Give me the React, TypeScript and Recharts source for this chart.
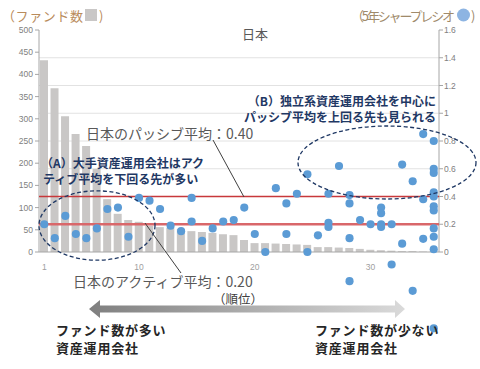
import React from 'react';
import {
  ComposedChart,
  Bar,
  Scatter,
  XAxis,
  YAxis,
  ZAxis,
  CartesianGrid,
  ReferenceLine,
} from 'recharts';

// ---- data ----
const ranks = [
  1, 2, 3, 4, 5, 6, 7, 8, 9, 10, 11, 12, 13, 14, 15, 16, 17, 18, 19, 20,
  21, 22, 23, 24, 25, 26, 27, 28, 29, 30, 31, 32, 33, 34, 35, 36, 37, 38,
];
const fundCounts = [
  432, 369, 306, 266, 239, 187, 119, 86, 72, 68, 59, 56, 54, 52, 47, 45, 43, 40, 38, 27,
  20, 20, 19, 18, 17, 16, 11, 11, 10, 9, 7, 5, 4, 3, 2, 2, 1, 1,
];
const sharpeRanks = [
  1, 2, 3, 4, 5, 6, 7, 8, 9, 10, 11, 12, 13, 14, 15, 15, 16, 17, 18, 19, 20, 21, 22, 23,
  24, 24, 25, 26, 26, 27, 28, 28, 28, 29, 30, 30, 30, 30, 31, 32, 33, 33, 33, 33, 34, 34,
  35, 35, 36, 36, 37, 37, 37, 38, 38, 38, 38, 38, 38, 38, 38, 38, 38, 38,
];
const sharpeValues = [
  0.2, 0.1, 0.26, 0.13, 0.1, 0.17, 0.31, 0.32, 0.11, 0.39, 0.37, 0.31, 0.19, 0.15, 0.39, 0.22,
  0.08, 0.17, 0.22, 0.23, 0.32, 0.13, 0.0, 0.46, 0.35, 0.13, 0.42, 0.56, 0.0, 0.12, 0.42, 0.21,
  0.18, 0.62, 0.41, 0.35, 0.1, -0.21, 0.23, 0.2, 0.32, 0.28, 0.2, 0.18, 0.2, -0.09, 0.63, 0.06,
  0.51, -0.28, 0.85, 0.38, 0.095, 0.8, 0.6, 0.57, 0.43, 0.4, 0.33, 0.3, 0.17, 0.11, 0.02, -0.55,
];
const passiveAvg = 0.4;
const activeAvg = 0.2;
const fundTicks = [0, 50, 100, 150, 200, 250, 300, 350, 400, 450, 500];
const sharpeTicks = [0, 0.2, 0.4, 0.6, 0.8, 1, 1.2, 1.4, 1.6];
const gridValues = [0.2, 0.4, 0.6, 0.8, 1, 1.2, 1.4];
const rankTickValues = [1, 10, 21, 32];
const rankTickLabels = ['1', '10', '20', '30'];

// axis ranges (the Sharpe axis leaves room below 0 for negative ratios)
const fundMax = 500;
const sharpeMax = 1.6;
const sharpeMin = -0.6;
const fundMin = (sharpeMin / sharpeMax) * fundMax;
const rankMin = 0.5;
const rankMax = 38.5;

const barData = ranks.map((r, i) => ({ rank: r, funds: fundCounts[i] }));
const pointData = sharpeRanks.map((r, i) => ({ rank: r, sharpe: sharpeValues[i] }));

const JP = '"Noto Sans CJK JP", "Noto Sans", sans-serif';
const NUM = '"Liberation Sans", Arial, sans-serif';
const W = 480;
const H = 369;
const AXIS = '#a6a6a6';

// x tick labels sit just under the zero line of the Sharpe axis
const renderRankTick = (props: any) => {
  const { x, y, payload } = props;
  const idx = rankTickValues.indexOf(payload.value);
  return (
    <text
      key={`rt-${payload.value}`}
      x={x}
      y={y - 68}
      fontSize={8.5}
      fill="#a0a0a0"
      fontFamily={NUM}
      textAnchor="middle"
      dominantBaseline="central"
    >
      {idx >= 0 ? rankTickLabels[idx] : ''}
    </text>
  );
};

export default function App() {
  return (
    <div style={{ position: 'absolute', left: 0, top: 0, width: W, height: H, background: '#fff', overflow: 'hidden' }}>
      <div style={{ position: 'absolute', left: 0, top: 0 }}>
        <ComposedChart width={W} height={H} data={barData} margin={{ top: 30, right: 11, bottom: 32.75, left: 9 }}>
          <CartesianGrid yAxisId="right" vertical={false} stroke="#e2e2e2" horizontalValues={gridValues} />
          <XAxis
            dataKey="rank"
            type="number"
            domain={[rankMin, rankMax]}
            ticks={rankTickValues}
            interval={0}
            height={1}
            axisLine={false}
            tickLine={false}
            tickSize={0}
            tickMargin={0}
            tick={renderRankTick}
          />
          <YAxis
            yAxisId="left"
            orientation="left"
            width={30}
            domain={[fundMin, fundMax]}
            ticks={fundTicks}
            interval={0}
            tickSize={4}
            tickMargin={2}
            axisLine={false}
            tickLine={{ stroke: AXIS }}
            tick={{ fontSize: 8.5, fill: '#808080', fontFamily: NUM }}
          />
          <YAxis
            yAxisId="right"
            orientation="right"
            width={30}
            domain={[sharpeMin, sharpeMax]}
            ticks={sharpeTicks}
            interval={0}
            tickSize={4}
            tickMargin={1}
            tickFormatter={(v: number) => String(v)}
            axisLine={false}
            tickLine={{ stroke: AXIS }}
            tick={{ fontSize: 8.5, fill: '#808080', fontFamily: NUM }}
          />
          <ZAxis range={[52, 52]} />
          <ReferenceLine yAxisId="right" y={0} stroke={AXIS} strokeWidth={1} />
          <ReferenceLine yAxisId="right" segment={[{ x: rankMin, y: 0 }, { x: rankMin, y: sharpeMax }]} stroke={AXIS} strokeWidth={1} />
          <ReferenceLine yAxisId="right" segment={[{ x: rankMax, y: 0 }, { x: rankMax, y: sharpeMax }]} stroke={AXIS} strokeWidth={1} />
          <Bar yAxisId="left" dataKey="funds" fill="#c9c7c6" barSize={8} isAnimationActive={false} />
          <ReferenceLine yAxisId="right" y={passiveAvg} stroke="#c8383b" strokeWidth={1.5} />
          <ReferenceLine yAxisId="right" y={activeAvg} stroke="#d9676a" strokeWidth={2.5} />
          <Scatter yAxisId="right" data={pointData} dataKey="sharpe" fill="#5b9bd5" isAnimationActive={false} />
        </ComposedChart>
      </div>
      <svg width={W} height={H} style={{ position: 'absolute', left: 0, top: 0, pointerEvents: 'none' }}>
        <defs>
          <linearGradient id="arrowGrad" x1="0" y1="0" x2="1" y2="0">
            <stop offset="0" stopColor="#7f7f7f" />
            <stop offset="1" stopColor="#dadada" />
          </linearGradient>
        </defs>
        {/* titles */}
        <text x={2} y={15} fontFamily={JP} fontSize={13} fill="#b98b5b" dominantBaseline="central" textLength={81}>
          （ファンド数
        </text>
        <rect x={85} y={9} width={12} height={12} fill="#c9c7c6" />
        <text x={99} y={15} fontFamily={JP} fontSize={13} fill="#b98b5b" dominantBaseline="central">
          )
        </text>
        <text x={351} y={15} fontFamily={JP} fontSize={13} fill="#a08a6a" dominantBaseline="central" textLength={104}>
          （5年シャープレシオ
        </text>
        <circle cx={463.5} cy={15} r={6.5} fill="#8db4e2" />
        <text x={471} y={15} fontFamily={JP} fontSize={13} fill="#a08a6a" dominantBaseline="central">
          )
        </text>
        <text x={255} y={33} fontFamily={JP} fontSize={13} fill="#595959" textAnchor="middle" dominantBaseline="central">
          日本
        </text>

        {/* ellipses */}
        <ellipse cx={97} cy={225.5} rx={58} ry={34.7} fill="none" stroke="#1f3864" strokeWidth={1.3} strokeDasharray="4 2.5" />
        <ellipse cx={387} cy={162.5} rx={89} ry={36.5} fill="none" stroke="#1f3864" strokeWidth={1.3} strokeDasharray="4 2.5" />

        {/* leader lines */}
        <line x1={213} y1={140} x2={244} y2={197} stroke="#404040" strokeWidth={1} />
        <line x1={145} y1={223} x2={181} y2={273} stroke="#404040" strokeWidth={1} />

        {/* average labels */}
        <text x={86} y={133} fontFamily={JP} fontSize={14} fill="#595959" dominantBaseline="central">
          日本のパッシブ平均：0.40
        </text>
        <text x={73} y={281} fontFamily={JP} fontSize={14} fill="#595959" dominantBaseline="central">
          日本のアクティブ平均：0.20
        </text>

        {/* (A) / (B) notes */}
        <g fontFamily={JP} fontSize={12} fontWeight={700} fill="#1f3864">
          <text x={41} y={162} dominantBaseline="central">（A）大手資産運用会社はアク</text>
          <text x={43} y={178} dominantBaseline="central">ティブ平均を下回る先が多い</text>
          <text x={436} y={100} textAnchor="end" dominantBaseline="central">（B）独立系資産運用会社を中心に</text>
          <text x={436} y={116} textAnchor="end" dominantBaseline="central">パッシブ平均を上回る先も見られる</text>
        </g>

        {/* rank label and arrow */}
        <text x={238} y={298.5} fontFamily={JP} fontSize={12.5} fill="#404040" textAnchor="middle" dominantBaseline="central">
          （順位）
        </text>
        <polygon
          points="89,309 100,300 100,305.5 395,305.5 395,300 405,309 395,318 395,312.5 100,312.5 100,318"
          fill="url(#arrowGrad)"
        />
        <g fontFamily={JP} fontSize={13} fontWeight={700} fill="#262626" letterSpacing={0.8}>
          <text x={56} y={329.5} dominantBaseline="central">ファンド数が多い</text>
          <text x={56} y={347} dominantBaseline="central">資産運用会社</text>
          <text x={315} y={329.5} dominantBaseline="central">ファンド数が少ない</text>
          <text x={315} y={347} dominantBaseline="central">資産運用会社</text>
        </g>
      </svg>
    </div>
  );
}
